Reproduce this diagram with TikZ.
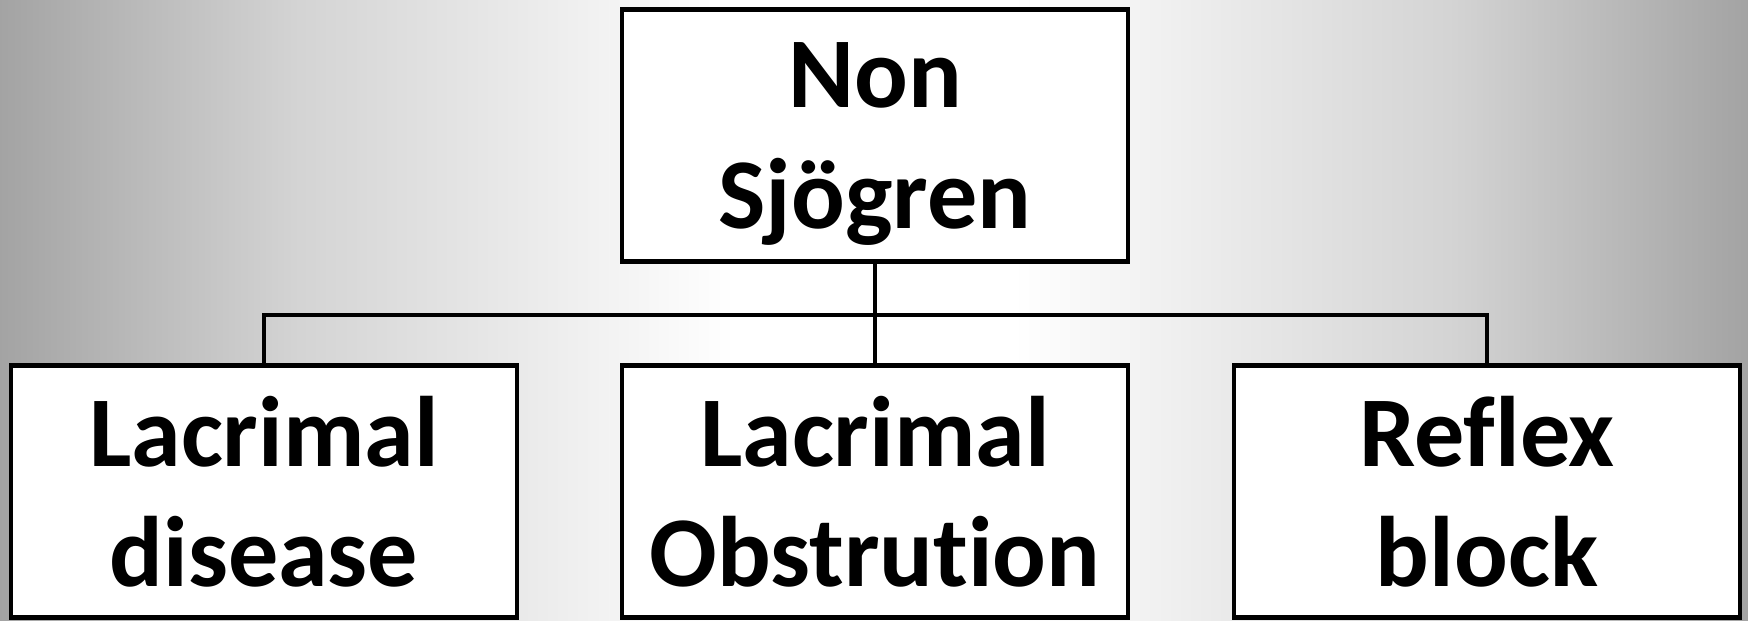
\documentclass[tikz,border=0pt]{standalone}
\usepackage{fontspec}
\setmainfont[Ligatures={NoCommon}]{Carlito}
\pgfdeclarehorizontalshading{bgshade}{100bp}{color(0bp)=(black!36); color(25bp)=(black!36); color(33.5bp)=(black!17); color(46bp)=(white); color(54bp)=(white); color(66.5bp)=(black!17); color(75bp)=(black!36); color(100bp)=(black!36)}
\begin{document}
\begin{tikzpicture}[
  box/.style={draw=black, fill=white, line width=1.2pt, minimum width=5.06cm, minimum height=2.52cm, inner sep=0pt, text depth=-2pt, align=center, font=\bfseries\fontsize{28.5}{34.2}\selectfont},
  conn/.style={draw=black, line width=1.2pt}
]
\useasboundingbox (0,0) rectangle (17.48,6.20);
\shade[shading=bgshade] (0,0) rectangle (17.48,6.20);
\node[box] (top) at (8.75,4.845) {Non\\Sjögren};
\node[box] (left) at (2.64,1.285) {Lacrimal\\disease};
\node[box] (mid) at (8.75,1.285) {Lacrimal\\Obstrution};
\node[box] (right) at (14.87,1.285) {Reflex\\block};
\coordinate (bar) at (8.75,3.05);
\draw[conn] (top.south) -- (mid.north);
\draw[conn] (left.north) -- (left.north |- bar) -- (right.north |- bar) -- (right.north);
\end{tikzpicture}
\end{document}
